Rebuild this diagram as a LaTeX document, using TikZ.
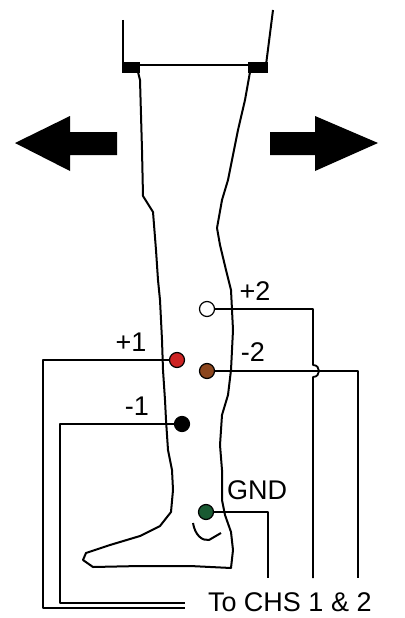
\documentclass[tikz,border=0pt]{standalone}
\usepackage{fontspec}
\setmainfont{Liberation Sans}
\usetikzlibrary{arrows.meta}

\definecolor{elred}{RGB}{205,35,35}
\definecolor{elbrown}{RGB}{140,70,30}
\definecolor{elgreen}{RGB}{25,90,50}

\begin{document}
\begin{tikzpicture}[x=1pt,y=-1pt,line width=2pt,line join=round,
elec/.style={circle, draw, line width=1.2pt, minimum size=15pt, inner sep=0pt},
lbl/.style={font=\fontsize{27}{29}\selectfont, inner sep=0pt},
wire/.style={line width=1.8pt}]
\useasboundingbox (0,0) rectangle (404,618);
% thigh and knee
\draw (123,20) -- (123,65) -- (266,65);
\draw (273,10) -- (266,65);
\fill (122,62) rectangle (140,73);
\fill (248,62) rectangle (268,73);
% leg and foot
\draw (138,72) -- (140,80) -- (142,150) -- (143,196) -- (153,212) -- (156,250)
  -- (158,280) -- (160,300) -- (162,340) -- (163,370) -- (165,400) -- (166,420)
  -- (168,450) -- (172,470) -- (173,490) -- (171,512) -- (160,526) -- (140,536)
  -- (110,545) -- (86,553) -- (83,560) -- (93,567) -- (140,566) -- (190,566)
  -- (231,568) -- (233,550) -- (231,532) -- (225,515) -- (222,500) -- (222,470)
  -- (220,445) -- (222,415) -- (228,395) -- (231,370) -- (233,330) -- (231,290)
  -- (226,270) -- (220,245) -- (217,228) -- (222,200) -- (228,180) -- (238,130)
  -- (245,100) -- (250,72);
\draw (193,523) .. controls (195,535) and (202,541) .. (209,540) -- (221,533);
% arrows
\fill (117,132) -- (70,132) -- (70,116) -- (15,143) -- (70,171) -- (70,155)
  -- (117,155) -- cycle;
\fill (270,132) -- (315,132) -- (315,116) -- (378,143) -- (315,171) -- (315,155)
  -- (270,155) -- cycle;
% electrodes
\node[elec, fill=white] (p2) at (207,309) {};
\node[elec, fill=elred] (p1) at (177,360) {};
\node[elec, fill=elbrown] (m2) at (207,371) {};
\node[elec, fill=black] (m1) at (182,424) {};
\node[elec, fill=elgreen] (gnd) at (206,512) {};
% labels
\node[lbl] (lp2) at (255,291) {+2};
\node[lbl] (lp1) at (131,342) {+1};
\node[lbl] (lm2) at (253,352) {-2};
\node[lbl] (lm1) at (137,406) {-1};
\node[lbl] (lgnd) at (257,490) {GND};
\node[lbl, anchor=west] (tochs) at (207,602) {To CHS 1 \& 2};
% wire ends
\coordinate (ep2) at (313,578);
\coordinate (em2) at (358,578);
\coordinate (egnd) at (268,578);
\coordinate (ep1) at (185,608);
\coordinate (em1) at (185,603);
% wires
\draw[wire] (p2.east) -| (313,365) .. controls (321,365) and (321,377) .. (313,377)
  -- (ep2);
\draw[wire] (m2.east) -| (em2);
\draw[wire] (gnd.east) -| (egnd);
\draw[wire] (p1.west) -| (43,608) -- (ep1);
\draw[wire] (m1.west) -| (60,603) -- (em1);
\end{tikzpicture}
\end{document}
